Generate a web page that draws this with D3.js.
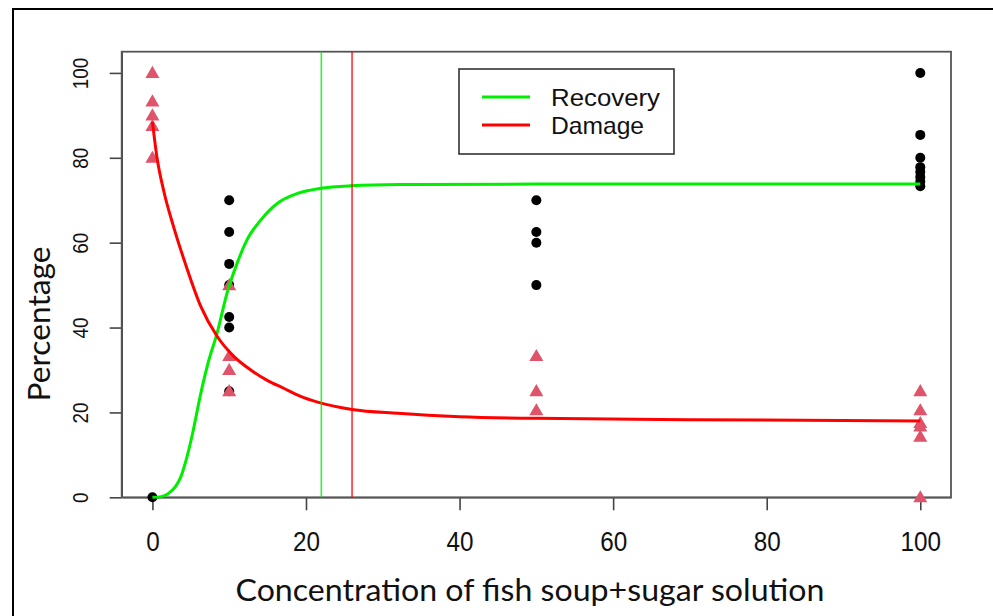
<!DOCTYPE html>
<html lang="en">
<head>
  <meta charset="utf-8">
  <title>Recovery and damage</title>
  <script src="https://d3js.org/d3.v7.min.js"></script>
  <style>
    body { margin: 0; background: #fff; }
    .tick-x { font-family: "Liberation Sans", Arial, sans-serif; font-size: 28px; }
    .tick-y { font-family: "Liberation Sans", Arial, sans-serif; font-size: 22px; }
    .title { font-family: Lato, "Open Sans", sans-serif; font-size: 30px; fill: #111; }
    .legend-text { font-family: "Liberation Sans", Arial, sans-serif; font-size: 24px; fill: #111; }
  </style>
</head>
<body>
<script>
// observed points (concentration -> percentage)
const recoveryX = [0, 10, 10, 10, 10, 10, 10, 10, 50, 50, 50, 50, 100, 100, 100, 100, 100, 100, 100, 100];
const recoveryY = [0, 70, 62.5, 55, 50, 42.5, 40, 25, 70, 62.5, 60, 50, 100, 85.4, 80, 77.8, 76.7, 75.5, 74.4, 73.3];
const damageX = [0, 0, 0, 0, 0, 10, 10, 10, 10, 50, 50, 50, 100, 100, 100, 100, 100, 100];
const damageY = [100, 93.3, 90, 87.5, 80, 50, 33.3, 30, 25, 33.3, 25, 20.5, 25, 20.5, 17.5, 16.7, 14.3, 0];

// fitted curves
const recFitX = [0, 1, 2, 3, 3.7, 4.5, 5.2, 6.3, 7.3, 8.4, 9.7, 11, 12.3, 14.1, 16.3, 18.9, 21.9, 25.8, 32.3, 50, 100];
const recFitY = [0, 0.1, 0.8, 2.5, 4.8, 9.5, 14.8, 24.5, 32, 38.5, 48, 55, 60.6, 65.3, 69.3, 71.6, 72.8, 73.4, 73.7, 73.8, 73.8];
const dmgFitX = [0, 0.6, 1.5, 2.8, 4.3, 6.3, 8.4, 10.6, 12.8, 15, 17.1, 19.3, 21.4, 26, 32, 40, 50, 70, 100];
const dmgFitY = [88.5, 80, 72, 63.5, 55, 45, 38, 33.2, 30, 27.5, 25.7, 23.8, 22.5, 20.7, 19.8, 19.0, 18.6, 18.3, 18.0];

// vertical reference lines
const recoveryCut = 22;
const damageCut = 26;

const xTicks = [0, 20, 40, 60, 80, 100];
const yTicks = [0, 20, 40, 60, 80, 100];
const legendLabels = ["Recovery", "Damage"];

const W = 993, H = 616;
const plot = {left: 121.7, right: 951, top: 51.7, bottom: 497.3};
const green = "#00ee00", red = "#ff0000", pink = "#DF536B";

const svg = d3.select("body").append("svg").attr("width", W).attr("height", H);

// outer frame of the screenshot
svg.append("path")
  .attr("d", `M13,${H} L13,9 L${W},9`)
  .attr("fill", "none").attr("stroke", "#000").attr("stroke-width", 2);

const x = d3.scaleLinear().domain([-4, 104]).range([plot.left, plot.right]);
const y = d3.scaleLinear().domain([0, 105]).range([plot.bottom, plot.top]);

// axes, R style
const xAxis = svg.append("g")
  .attr("transform", `translate(0,${plot.bottom})`)
  .call(d3.axisBottom(x).tickValues(xTicks).tickSize(13).tickPadding(21).tickSizeOuter(0));
xAxis.attr("font-size", null).attr("font-family", null);
xAxis.selectAll("text")
  .attr("class", "tick-x").attr("fill", "#111")
  .attr("textLength", d => String(d).length * 13.5)
  .attr("lengthAdjust", "spacingAndGlyphs");

const yAxis = svg.append("g")
  .attr("transform", `translate(${plot.left},0)`)
  .call(d3.axisLeft(y).tickValues(yTicks).tickSize(12).tickSizeOuter(0));
yAxis.attr("font-size", null).attr("font-family", null);
yAxis.selectAll("text")
  .attr("class", "tick-y").attr("fill", "#111")
  .attr("x", null)
  .attr("text-anchor", "middle")
  .attr("transform", "translate(-41,0) rotate(-90)")
  .attr("dy", "0.35em")
  .attr("textLength", d => String(d).length * 10.5)
  .attr("lengthAdjust", "spacingAndGlyphs");

[xAxis, yAxis].forEach(g => {
  g.selectAll("line, path").attr("stroke", "#444").attr("stroke-width", 1.6);
});

// plot box
svg.append("rect")
  .attr("x", plot.left).attr("y", plot.top)
  .attr("width", plot.right - plot.left).attr("height", plot.bottom - plot.top)
  .attr("fill", "none").attr("stroke", "#555").attr("stroke-width", 1.8);

// points
svg.append("g").selectAll("circle")
  .data(recoveryX.map((d, i) => [d, recoveryY[i]]))
  .join("circle")
  .attr("cx", d => x(d[0])).attr("cy", d => y(d[1]))
  .attr("r", 5).attr("fill", "#000");

const tri = d3.symbol().type(d3.symbolTriangle).size(85);
svg.append("g").selectAll("path")
  .data(damageX.map((d, i) => [d, damageY[i]]))
  .join("path")
  .attr("d", tri)
  .attr("transform", d => `translate(${x(d[0])},${y(d[1]) + 1})`)
  .attr("fill", pink);

// fitted curves
const line = d3.line().x(d => x(d[0])).y(d => y(d[1])).curve(d3.curveMonotoneX);
svg.append("path")
  .attr("d", line(recFitX.map((d, i) => [d, recFitY[i]])))
  .attr("fill", "none").attr("stroke", green).attr("stroke-width", 3);
svg.append("path")
  .attr("d", line(dmgFitX.map((d, i) => [d, dmgFitY[i]])))
  .attr("fill", "none").attr("stroke", red).attr("stroke-width", 3);

// cut lines
[[recoveryCut, green], [damageCut, red]].forEach(([v, c]) => {
  svg.append("line")
    .attr("x1", x(v)).attr("x2", x(v))
    .attr("y1", plot.top).attr("y2", plot.bottom)
    .attr("stroke", c).attr("stroke-width", 1.6).attr("opacity", 0.8);
});

// legend
const legendWidths = [109, 93];
const lg = svg.append("g").attr("transform", "translate(459,69)");
lg.append("rect").attr("width", 215).attr("height", 85)
  .attr("fill", "#fff").attr("stroke", "#333").attr("stroke-width", 1.6);
legendLabels.forEach((t, i) => {
  const yy = 28 + i * 28;
  lg.append("line").attr("x1", 23).attr("x2", 71).attr("y1", yy).attr("y2", yy)
    .attr("stroke", i === 0 ? green : red).attr("stroke-width", 3);
  lg.append("text").attr("class", "legend-text").attr("x", 92).attr("y", yy + 9)
    .attr("textLength", legendWidths[i]).attr("lengthAdjust", "spacingAndGlyphs")
    .text(t);
});

// axis titles
svg.append("text").attr("class", "title")
  .attr("x", 530).attr("y", 601).attr("text-anchor", "middle")
  .attr("textLength", 589).attr("lengthAdjust", "spacingAndGlyphs")
  .text("Concentration of fish soup+sugar solution");
svg.append("text").attr("class", "title")
  .attr("transform", "translate(50,324) rotate(-90)").attr("text-anchor", "middle")
  .attr("textLength", 155).attr("lengthAdjust", "spacingAndGlyphs")
  .text("Percentage");
</script>
</body>
</html>
